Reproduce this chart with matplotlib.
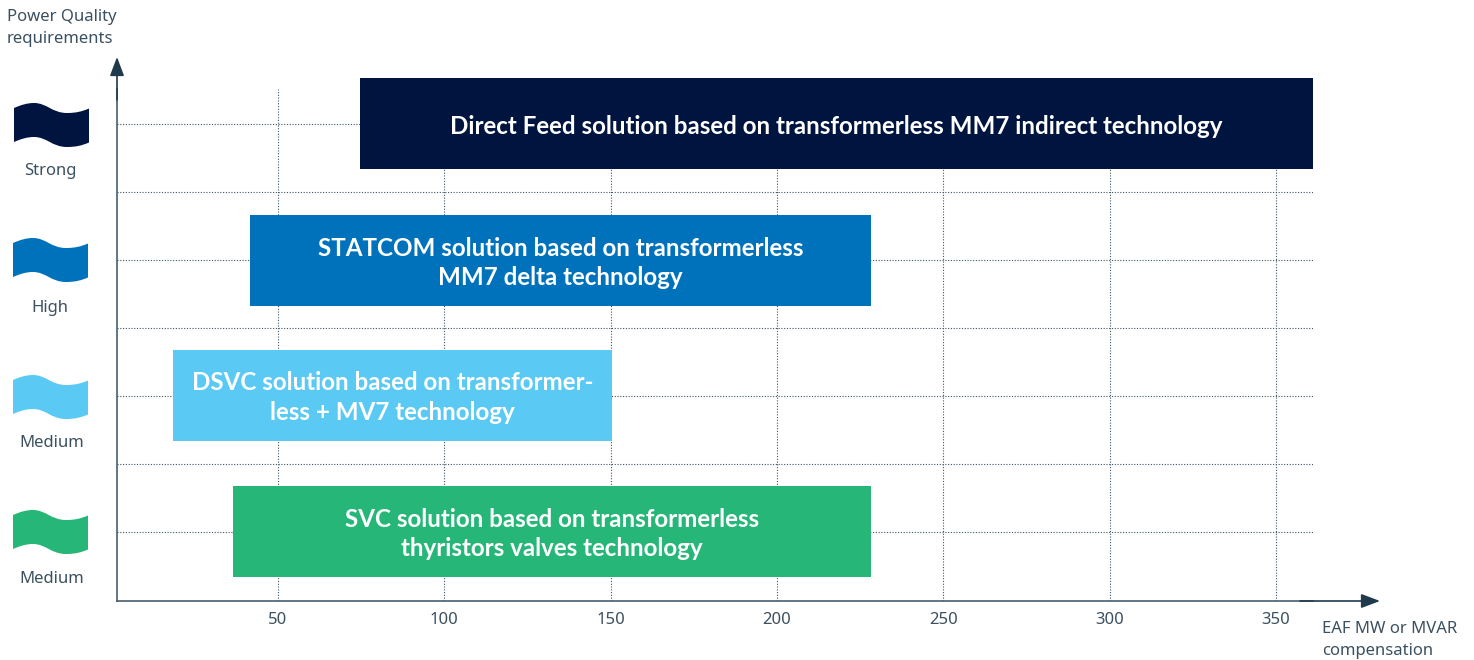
import matplotlib
matplotlib.use("Agg")
import matplotlib.pyplot as plt
from matplotlib.path import Path
from matplotlib.patches import PathPatch
from matplotlib.transforms import Affine2D

plt.rcParams["font.family"] = ["Noto Sans", "DejaVu Sans"]

W, H = 1474, 660
TEXT = "#3b5060"
AXIS = "#4a5f6e"
ARROW = "#1f3a4d"
GRID = "#3f5564"

# data
solutions = [
    "SVC solution based on transformerless\nthyristors valves technology",
    "DSVC solution based on transformer-\nless + MV7 technology",
    "STATCOM solution based on transformerless\nMM7 delta technology",
    "Direct Feed solution based on transformerless MM7 indirect technology",
]
levels = [1.004, 2.005, 2.996, 4]
start_mw = [36.5, 18.4, 41.6, 74.6]
end_mw = [228.2, 150.4, 228.2, 361.0]
colors = ["#26b678", "#5ac9f4", "#0072bc", "#001440"]
level_names = ["Medium", "Medium", "High", "Strong"]
x_ticks = [50, 100, 150, 200, 250, 300, 350]
y_grid = [1, 1.5, 2, 2.5, 3, 3.5, 4]

fig = plt.figure(figsize=(W / 100, H / 100), dpi=100, facecolor="white")
ax = fig.add_axes([117 / W, 1 - 601 / H, (1313 - 117) / W, (601 - 89) / H])
ax.set_xlim(1.6, 361.1)
ax.set_ylim(0.493, 4.257)

ax.set_xticks(x_ticks)
ax.set_yticks(y_grid)
ax.set_yticklabels([])
ax.tick_params(length=0, labelsize=12, labelcolor=TEXT, pad=8)
ax.grid(True, linestyle=(0, (1, 1.5)), linewidth=0.8, color=GRID)
ax.set_axisbelow(True)
for side in ["top", "right"]:
    ax.spines[side].set_visible(False)
for side in ["left", "bottom"]:
    ax.spines[side].set_color(AXIS)
    ax.spines[side].set_linewidth(1.2)

widths = [e - s for s, e in zip(start_mw, end_mw)]
ax.barh(levels, widths, left=start_mw, height=0.669, color=colors, zorder=3, clip_on=False)
for name, y, s, e in zip(solutions, levels, start_mw, end_mw):
    ax.text((s + e) / 2, y - 0.018, name, ha="center", va="center", color="white",
            family="Lato", fontsize=17.4, fontweight="bold", linespacing=1.35, zorder=4)

# everything outside the plot area is placed in pixels
px = Affine2D().scale(1, -1).translate(0, H)


def flag(x0, y0, color):
    top = [(0, 5), (7, 2), (13, 0), (20, 0), (33, 0), (38, 10), (53, 10), (62, 10), (68, 8.5), (75, 5.5)]
    bottom = [(p[0], p[1] + 34) for p in reversed(top)]
    verts = top + bottom + [top[0]]
    codes = [Path.MOVETO] + [Path.CURVE4] * 9 + [Path.LINETO] + [Path.CURVE4] * 9 + [Path.CLOSEPOLY]
    verts = [(x0 + a, y0 + b) for a, b in verts]
    fig.add_artist(PathPatch(Path(verts, codes), facecolor=color, edgecolor="none", transform=px))


flag_pos = [(13, 510), (13, 375), (13, 238), (14, 103)]
name_pos = [(52, 579), (52, 443), (50, 308), (50, 171)]
for pos, c in zip(flag_pos, colors):
    flag(pos[0], pos[1], c)
for pos, name in zip(name_pos, level_names):
    fig.text(pos[0], pos[1], name, transform=px, ha="center", va="center", fontsize=12, color=TEXT)

fig.text(7, 28, "Power Quality\nrequirements", transform=px, ha="left", va="center",
         fontsize=12, color=TEXT, linespacing=1.5)
fig.text(1322, 640, "EAF MW or MVAR\ncompensation", transform=px, ha="left", va="center",
         fontsize=12, color=TEXT, linespacing=1.5)

# axis arrows
arrow = dict(arrowstyle="-|>,head_length=1.22,head_width=0.46", color=ARROW, lw=1.2,
             mutation_scale=9.4, shrinkA=0, shrinkB=0)
ax.annotate("", xy=(117, H - 57), xytext=(117, H - 100), xycoords="figure pixels",
            textcoords="figure pixels", arrowprops=arrow)
ax.annotate("", xy=(1380, H - 601), xytext=(1300, H - 601), xycoords="figure pixels",
            textcoords="figure pixels", arrowprops=arrow)

fig.savefig("out.png", dpi=100)
